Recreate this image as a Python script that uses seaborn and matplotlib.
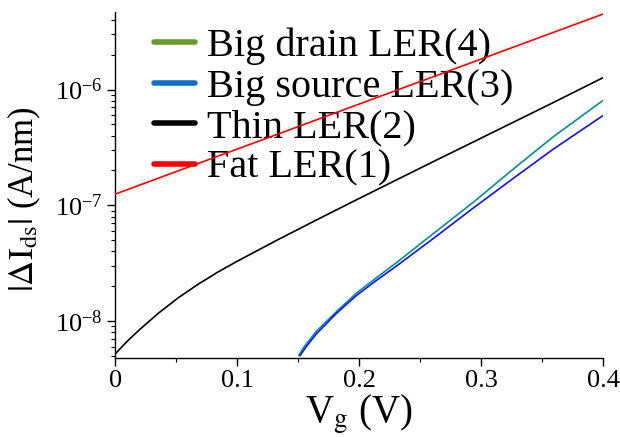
import numpy as np
import pandas as pd
import matplotlib
matplotlib.use("Agg")
import matplotlib.pyplot as plt
from matplotlib.lines import Line2D
from matplotlib.ticker import LogLocator, MultipleLocator, NullFormatter, FuncFormatter
import seaborn as sns

# Gate voltage (V) and |dI_ds| (A/nm) for each LER case
vg_fat = [0.0, 0.4]
id_fat = [1.25e-7, 4.5e-6]

vg_thin = [0.0, 0.0097, 0.0194, 0.0356, 0.0517, 0.0679, 0.0841, 0.1003, 0.1326,
           0.1649, 0.1973, 0.2296, 0.2619, 0.2943, 0.3266, 0.3589, 0.4]
id_thin = [5.21e-9, 6.67e-9, 8.34e-9, 1.175e-8, 1.59e-8, 2.08e-8, 2.65e-8, 3.30e-8, 5.00e-8,
           7.47e-8, 1.11e-7, 1.64e-7, 2.42e-7, 3.56e-7, 5.24e-7, 7.71e-7, 1.27e-6]

vg_drain = [0.1504, 0.1552, 0.1649, 0.1811, 0.1973, 0.2134, 0.2296, 0.2619, 0.2943,
            0.3266, 0.3589, 0.4]
id_drain = [5.07e-9, 6.07e-9, 8.18e-9, 1.2e-8, 1.73e-8, 2.34e-8, 3.14e-8, 5.83e-8, 1.08e-7,
            2.07e-7, 3.9e-7, 8.09e-7]

vg_source = [0.1513, 0.1568, 0.1649, 0.1811, 0.1973, 0.2134, 0.2296, 0.2619, 0.2943,
             0.3266, 0.3589, 0.4]
id_source = [5.0e-9, 6.07e-9, 7.76e-9, 1.16e-8, 1.65e-8, 2.22e-8, 2.94e-8, 5.28e-8, 9.62e-8,
             1.72e-7, 3.05e-7, 5.98e-7]

legend_labels = ["Big drain LER(4)", "Big source LER(3)", "Thin LER(2)", "Fat LER(1)"]
legend_colors = ["#6a9a2e", "#1070c8", "black", "red"]

sns.set_style("ticks")
plt.rcParams["font.family"] = ["Liberation Serif", "DejaVu Serif"]
plt.rcParams["mathtext.fontset"] = "stix"
for key in ["text.color", "axes.labelcolor", "xtick.color", "ytick.color", "axes.edgecolor"]:
    plt.rcParams[key] = "black"

fig = plt.figure(figsize=(6.2, 4.37), dpi=100)
ax = fig.add_axes([0.186, 0.181, 0.787, 0.792])


def curve(x, y):
    return pd.DataFrame({"Vg": x, "Id": y})


sns.lineplot(data=curve(vg_fat, id_fat), x="Vg", y="Id", ax=ax, color="#ff0000", lw=1.2, zorder=3)
sns.lineplot(data=curve(vg_thin, id_thin), x="Vg", y="Id", ax=ax, color="black", lw=1.2, zorder=3)
sns.lineplot(data=curve(vg_drain, id_drain), x="Vg", y="Id", ax=ax, color="#009090", lw=1.2, zorder=3)
sns.lineplot(data=curve(vg_source, id_source), x="Vg", y="Id", ax=ax, color="#1010ff", lw=1.2, zorder=3)

ax.set_yscale("log")
ax.set_xlim(0, 0.4)
ax.set_ylim(4.8e-9, 4.7e-6)

ax.xaxis.set_major_locator(MultipleLocator(0.1))
ax.xaxis.set_minor_locator(MultipleLocator(0.05))
ax.xaxis.set_major_formatter(FuncFormatter(lambda v, p: "0" if abs(v) < 1e-9 else f"{v:.1f}"))
ax.yaxis.set_major_locator(LogLocator(base=10, numticks=10))
ax.yaxis.set_minor_locator(LogLocator(base=10, subs=np.arange(2, 10), numticks=20))
ax.yaxis.set_minor_formatter(NullFormatter())

ax.tick_params(axis="both", which="major", direction="out", length=6, width=1.0,
               labelsize=19, color="black", labelcolor="black")
ax.tick_params(axis="both", which="minor", direction="out", length=3, width=0.8, color="black")
ax.tick_params(axis="x", pad=3)
ax.tick_params(axis="y", pad=3)
for s in ["left", "bottom"]:
    ax.spines[s].set_linewidth(1.0)
    ax.spines[s].set_color("black")
sns.despine(ax=ax)

ax.set_xlabel(r"V$_\mathrm{g}$ (V)", fontsize=28, labelpad=0, color="black")
ax.set_ylabel(r"$|\Delta\mathrm{I}_\mathrm{ds}|$ (A/nm)", fontsize=25, color="black")
ax.yaxis.set_label_coords(-0.148, 0.46)

handles = [Line2D([], [], color=c, lw=4) for c in legend_colors]
leg = ax.legend(handles, legend_labels, loc="upper left", bbox_to_anchor=(0.047, 1.0),
                frameon=False, fontsize=29, handlelength=1.0, handletextpad=0.3,
                labelspacing=0.08, borderaxespad=0.0)
for t in leg.get_texts():
    t.set_color("black")
# curves are drawn over the legend text
leg.set_zorder(1)

fig.savefig("out.png", dpi=100)
